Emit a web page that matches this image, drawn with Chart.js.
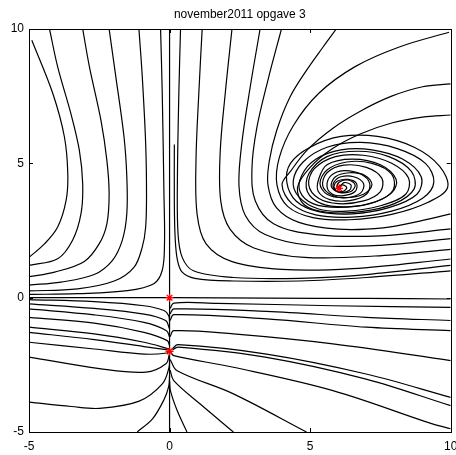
<!DOCTYPE html>
<html>
<head>
<meta charset="utf-8">
<script src="https://cdn.jsdelivr.net/npm/chart.js@4/dist/chart.umd.min.js"></script>
<style>
  html, body { margin: 0; padding: 0; background: #fff; }
  canvas { display: block; }
</style>
</head>
<body>
<canvas id="myChart" width="456" height="455"></canvas>
<script>
const chartTitle = "november2011 opgave 3";
const xTicks = [-5, 0, 5, 10];
const yTicks = [-5, 0, 5, 10];

// equilibria (red stars)
const equilibria = [[0, 0], [0, -2], [6.03, 4.07]];

// left family, from the top bending back to the left edge
const c1 = [[-4.9, 9.58], [-4.15, 7.59], [-3.74, 5.98], [-3.62, 4.61], [-3.68, 3.62], [-3.98, 2.63], [-4.45, 2.0], [-5, 1.5]];
const c2 = [[-4.27, 10], [-3.98, 8.59], [-3.51, 6.85], [-3.21, 5.49], [-3.09, 4.24], [-3.15, 3.13], [-3.45, 2.14], [-3.98, 1.45], [-5, 1.2]];
const c3 = [[-3.09, 10], [-2.85, 8.59], [-2.44, 6.6], [-2.23, 5.11], [-2.15, 3.87], [-2.23, 2.75], [-2.5, 2.01], [-3.03, 1.35], [-4.09, 0.95], [-5, 0.78]];
const c4 = [[-2.15, 10], [-1.91, 8.21], [-1.62, 5.98], [-1.52, 4.49], [-1.52, 3.13], [-1.68, 2.14], [-2.03, 1.39], [-2.68, 0.86], [-3.86, 0.58], [-5, 0.47]];
const c5 = [[-1.09, 10], [-0.97, 8.21], [-0.85, 5.73], [-0.82, 3.87], [-0.85, 2.63], [-0.97, 1.89], [-1.26, 1.14], [-1.97, 0.62], [-3.27, 0.33], [-5, 0.25]];
const c6 = [[-0.32, 10], [-0.26, 7.59], [-0.2, 3.87], [-0.18, 2.01], [-0.26, 1.02], [-0.56, 0.52], [-1.5, 0.26], [-3.27, 0.15], [-5, 0.12]];
const v0 = [[0, 10], [0, -5]];

// right family, L shaped, leaving at the right edge
const v1 = [[0.17, 5.7], [0.17, 3.5], [0.2, 2.2], [0.28, 1.4], [0.45, 0.95], [0.9, 0.72], [2.27, 0.62], [4.63, 0.62], [7.0, 0.75], [10, 1.0]];
const lB = [[0.39, 10], [0.33, 7.6], [0.28, 4.5], [0.3, 2.4], [0.45, 1.5], [0.85, 1.0], [2.27, 0.75], [4.63, 0.72], [7.0, 0.86], [10, 1.2]];
const lC = [[1.16, 10], [1.04, 7.6], [0.94, 5.1], [0.98, 3.1], [1.3, 2.0], [2.2, 1.35], [4.0, 1.05], [6.5, 1.08], [10, 1.44]];
const lD = [[2.22, 10], [1.98, 7.6], [1.8, 5.4], [1.82, 3.6], [2.15, 2.55], [3.0, 1.85], [4.8, 1.5], [7.3, 1.55], [10, 1.8]];
const lE = [[3.22, 10], [2.87, 7.85], [2.57, 5.75], [2.47, 4.15], [2.7, 3.05], [3.4, 2.35], [5.0, 1.95], [7.5, 1.95], [10, 2.2]];
const lF = [[3.98, 10], [3.5, 8.1], [3.1, 6.3], [2.93, 4.8], [3.05, 3.6], [3.7, 2.75], [5.2, 2.35], [7.5, 2.3], [10, 2.56]];
const lG = [[5.93, 10], [5.46, 9.33], [4.87, 8.46], [4.28, 7.46], [3.81, 6.22], [3.55, 5.1], [3.5, 4.2], [3.8, 3.35], [4.6, 2.8], [6.0, 2.55], [7.6, 2.6], [8.9, 2.85], [10, 3.12]];

// trajectories winding into the focus
const sH = [[9.94, 9.88], [8.17, 9.33], [6.6, 8.6], [5.3, 7.6], [4.4, 6.4], [3.9, 5.2], [3.82, 4.2], [4.2, 3.4], [5.1, 2.98], [6.4, 2.9], [7.9, 3.1], [9.2, 3.55], [9.89, 4.1], [9.6, 4.9], [8.7, 5.6], [7.4, 6.0], [6.1, 6.0], [5.0, 5.6], [4.3, 5.0], [4.17, 4.3], [4.5, 3.6], [5.3, 3.2], [6.5, 3.12], [7.8, 3.35], [8.8, 3.85], [8.95, 4.5], [8.3, 5.15], [7.2, 5.5], [6.1, 5.5], [5.2, 5.15], [4.7, 4.55], [4.64, 3.95], [5.1, 3.5], [6.0, 3.36], [7.1, 3.5], [7.9, 3.9], [8.06, 4.4], [7.5, 4.95], [6.5, 5.16], [5.6, 4.95], [5.3, 4.4], [5.29, 3.95], [5.7, 3.65], [6.4, 3.61], [7.0, 3.85], [7.12, 4.25], [6.8, 4.6], [6.2, 4.73], [5.75, 4.55], [5.6, 4.15], [5.8, 3.85], [6.2, 3.8], [6.6, 3.95], [6.65, 4.25], [6.35, 4.4], [6.0, 4.35], [5.85, 4.15], [5.95, 3.98], [6.2, 3.97], [6.3, 4.1], [6.15, 4.2], [6.0, 4.12], [6.03, 4.07]];
const sI = [[10, 7.96], [9.0, 7.85], [7.9, 7.5], [6.8, 6.95], [5.8, 6.3], [4.9, 5.5], [4.3, 4.7], [4.0, 4.2], [4.35, 3.5], [5.2, 3.08], [6.5, 3.0], [7.9, 3.22], [9.0, 3.7], [9.4, 4.3], [9.1, 5.0], [8.1, 5.55], [6.8, 5.78], [5.6, 5.6], [4.75, 5.05], [4.4, 4.35], [4.6, 3.75], [5.3, 3.3], [6.3, 3.22], [7.5, 3.42], [8.4, 3.85], [8.5, 4.45], [7.9, 5.0], [6.9, 5.3], [5.9, 5.25], [5.15, 4.8], [4.95, 4.2], [5.3, 3.7], [6.0, 3.5], [6.9, 3.6], [7.5, 3.95], [7.55, 4.45], [7.0, 4.85], [6.2, 4.93], [5.6, 4.65], [5.45, 4.15], [5.8, 3.8], [6.3, 3.72], [6.8, 3.9], [6.9, 4.25], [6.55, 4.5], [6.1, 4.5], [5.85, 4.3], [5.85, 4.05], [6.1, 3.92], [6.4, 4.0], [6.45, 4.2], [6.2, 4.28], [6.03, 4.07]];
const sJ = [[10, 6.8], [9.0, 6.72], [7.9, 6.5], [6.8, 6.1], [5.8, 5.55], [5.0, 4.85], [4.55, 4.1], [4.8, 3.45], [5.6, 3.18], [6.8, 3.2], [8.0, 3.5], [8.7, 4.05], [8.6, 4.7], [7.8, 5.25], [6.7, 5.45], [5.6, 5.25], [4.95, 4.6], [4.9, 3.95], [5.4, 3.5], [6.3, 3.38], [7.3, 3.55], [7.95, 4.0], [7.9, 4.6], [7.2, 5.0], [6.3, 5.05], [5.6, 4.75], [5.35, 4.25], [5.6, 3.85], [6.2, 3.72], [6.9, 3.85], [7.2, 4.2], [6.95, 4.55], [6.4, 4.65], [5.9, 4.5], [5.75, 4.15], [6.0, 3.93], [6.45, 3.95], [6.6, 4.2], [6.35, 4.38], [6.03, 4.3], [5.95, 4.1], [6.03, 4.07]];

// lower left, running into the x = 0 line
const p1 = [[-5, 0], [-2.5, 0], [0, 0]];
const p2 = [[-5, -0.07], [-2.68, -0.15], [-0.91, -0.3], [-0.2, -0.48], [-0.03, -0.67], [0, -0.92]];
const p3 = [[-5, -0.23], [-2.68, -0.4], [-0.91, -0.61], [-0.14, -0.85], [0, -1.17]];
const p4 = [[-5, -0.42], [-2.68, -0.64], [-0.91, -0.92], [-0.11, -1.23], [0, -1.47]];
const p5 = [[-5, -0.73], [-2.68, -0.95], [-0.91, -1.29], [-0.08, -1.6], [0, -1.79]];
const p6 = [[-5, -1.1], [-2.68, -1.35], [-0.91, -1.66], [0, -1.91]];
const p7 = [[-5, -1.29], [-2.68, -1.56], [-0.91, -1.82], [0, -1.95]];
const p8 = [[-5, -1.66], [-2.68, -1.91], [-0.91, -2.1], [-0.1, -2.06], [0, -1.97]];
const p9 = [[-5, -2.21], [-2.49, -2.64], [-0.84, -2.77], [-0.13, -2.46], [0, -2.08]];
const p10 = [[-5, -3.89], [-3.5, -4.05], [-2.49, -4.12], [-1.08, -3.85], [-0.25, -3.2], [-0.02, -2.6], [0, -2.3]];
const p11 = [[-1.15, -5], [-0.6, -4.5], [-0.2, -3.8], [-0.03, -3.3], [0, -2.9]];

// lower right, fanning out from the x = 0 line
const q1 = [[0.1, 0], [3.5, -0.02], [7, -0.03], [10, -0.05]];
const q2 = [[0.02, -0.4], [0.15, -0.2], [1.7, -0.21], [5.81, -0.3], [10, -0.36]];
const q3 = [[0.02, -0.6], [0.15, -0.42], [3.45, -0.51], [6.99, -0.73], [10, -0.85]];
const q4 = [[0.02, -0.85], [0.15, -0.63], [3.45, -0.79], [6.99, -1.1], [10, -1.23]];
const q5 = [[0.02, -1.45], [0.15, -1.23], [2.27, -1.35], [5.81, -1.72], [10, -2.34]];
const q6 = [[0.1, -1.9], [0.3, -1.75], [3.45, -2.1], [6.99, -2.84], [10, -3.71]];
const q7 = [[0.1, -1.95], [0.3, -1.84], [3.45, -2.22], [6.99, -3.03], [10, -4.02]];
const q8 = [[0.02, -2.0], [0.15, -2.16], [2.27, -2.59], [5.81, -3.46], [9.35, -4.7], [10, -4.88]];
const q9 = [[0.02, -2.3], [0.27, -2.72], [2.27, -3.58], [4.87, -5]];
const q10 = [[0.02, -2.7], [0.15, -3.09], [1.09, -3.96], [2.27, -5]];
const q11 = [[0.0, -3.1], [0.03, -3.46], [0.27, -4.2], [0.62, -5]];

const curves = [c1, c2, c3, c4, c5, c6, v0, v1, lB, lC, lD, lE, lF, lG, sH, sI, sJ,
  p1, p2, p3, p4, p5, p6, p7, p8, p9, p10, p11,
  q1, q2, q3, q4, q5, q6, q7, q8, q9, q10, q11];

function toPoints(arr) {
  return arr.map(p => ({ x: p[0], y: p[1] }));
}

const datasets = [];
// stars first so they are drawn on top
datasets.push({
  data: toPoints(equilibria),
  showLine: false,
  pointStyle: 'star',
  pointRadius: 4,
  borderColor: '#ff0000',
  backgroundColor: '#ff0000',
  borderWidth: 1.3
});
curves.forEach(c => {
  datasets.push({
    data: toPoints(c),
    showLine: true,
    borderColor: '#000000',
    borderWidth: 1.2,
    pointRadius: 0,
    tension: 0.35,
    fill: false
  });
});

// box and inward tick marks on all four sides
const boxPlugin = {
  id: 'boxTicks',
  afterDraw(chart) {
    const ctx = chart.ctx;
    const a = chart.chartArea;
    const xs = chart.scales.x;
    const ys = chart.scales.y;
    ctx.save();
    ctx.strokeStyle = '#000';
    ctx.lineWidth = 1;
    ctx.strokeRect(Math.round(a.left) + 0.5, Math.round(a.top) + 0.5,
      Math.round(a.right - a.left), Math.round(a.bottom - a.top));
    ctx.beginPath();
    xTicks.forEach(v => {
      const px = Math.round(xs.getPixelForValue(v)) + 0.5;
      ctx.moveTo(px, a.bottom); ctx.lineTo(px, a.bottom - 4);
      ctx.moveTo(px, a.top); ctx.lineTo(px, a.top + 4);
    });
    yTicks.forEach(v => {
      const py = Math.round(ys.getPixelForValue(v)) + 0.5;
      ctx.moveTo(a.left, py); ctx.lineTo(a.left + 4, py);
      ctx.moveTo(a.right, py); ctx.lineTo(a.right - 4, py);
    });
    ctx.stroke();
    ctx.restore();
  }
};

const font = { family: "'Liberation Sans', Arial, sans-serif", size: 12 };

new Chart(document.getElementById('myChart'), {
  type: 'scatter',
  data: { datasets: datasets },
  options: {
    responsive: false,
    animation: false,
    layout: { padding: { left: 0, right: 3, top: 0, bottom: 0 } },
    plugins: {
      legend: { display: false },
      tooltip: { enabled: false },
      title: {
        display: true,
        text: chartTitle,
        fullSize: false,
        color: '#000',
        font: { family: font.family, size: 12, weight: 'normal' },
        padding: { top: 7, bottom: 7.6 }
      }
    },
    scales: {
      x: {
        type: 'linear',
        min: -5, max: 10,
        afterBuildTicks: s => { s.ticks = xTicks.map(v => ({ value: v })); },
        afterFit: s => { s.height = 23; s.paddingLeft = 0; s.paddingRight = 0; },
        grid: { display: false, drawTicks: false },
        border: { display: false },
        ticks: { color: '#000', font: font, padding: 7, maxRotation: 0, autoSkip: false }
      },
      y: {
        type: 'linear',
        min: -5, max: 10,
        afterBuildTicks: s => { s.ticks = yTicks.map(v => ({ value: v })); },
        afterFit: s => { s.width = 29; s.paddingTop = 0; s.paddingBottom = 0; },
        grid: { display: false, drawTicks: false },
        border: { display: false },
        ticks: { color: '#000', font: font, padding: 5, autoSkip: false }
      }
    }
  },
  plugins: [boxPlugin]
});
</script>
</body>
</html>
